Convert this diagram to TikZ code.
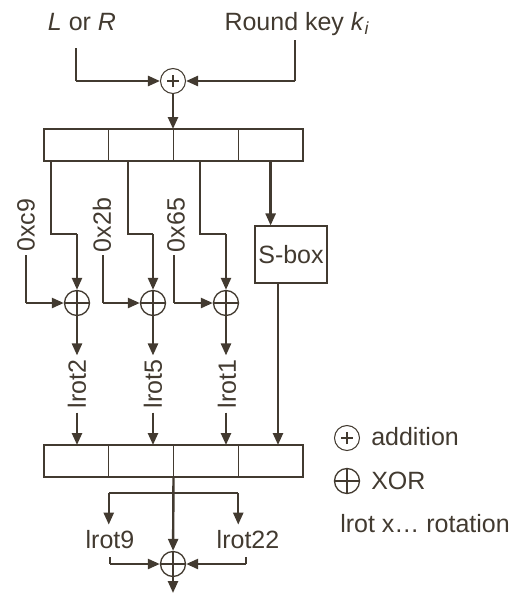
\documentclass[tikz,border=0pt]{standalone}
\usepackage{fontspec}
\setmainfont{Liberation Sans}
\usetikzlibrary{arrows.meta}
\definecolor{ink}{RGB}{66,58,48}
\begin{document}
\begin{tikzpicture}[x=0.75pt,y=-0.75pt,
  tline/.style={draw=ink, line width=0.8pt},
  arr/.style={draw=ink, line width=1.8pt, -{Triangle[length=9pt,width=7.5pt]}},
  lbl/.style={text=ink, font=\fontsize{18.75}{22}\selectfont, inner sep=0pt},
  addc/.style={circle, draw=ink, line width=0.8pt, minimum size=18.75pt, inner sep=0pt,
    path picture={\draw[ink,line width=1.3pt]
      ([xshift=-4.5pt]path picture bounding box.center) -- ([xshift=4.5pt]path picture bounding box.center)
      ([yshift=-4.5pt]path picture bounding box.center) -- ([yshift=4.5pt]path picture bounding box.center);}},
  xorc/.style={circle, draw=ink, line width=1pt, minimum size=18.75pt, inner sep=0pt,
    path picture={\draw[ink,line width=1.1pt]
      (path picture bounding box.north) -- (path picture bounding box.south)
      (path picture bounding box.west) -- (path picture bounding box.east);}},
  cell/.style={draw=ink, line width=0.8pt, minimum width=48.5625pt, minimum height=24pt, inner sep=0pt, outer sep=0pt},
]
\useasboundingbox (0,0) rectangle (518,594);

% top inputs
\node[lbl, anchor=base] (lr) at (82,30) {\textit{L} or \textit{R}};
\node[lbl, anchor=base] (rk) at (297,30) {Round key \textit{k}\textsubscript{\textit{i}}};
\node[addc] (p) at (173,81) {};
\coordinate (a1) at (76,48);
\coordinate (a2) at (295,40);
\draw[tline] (a1) -- (a1 |- p);
\draw[arr] (a1 |- p) -- (p);
\draw[tline] (a2) -- (a2 |- p);
\draw[arr] (a2 |- p) -- (p);

% top register
\node[cell] (t1) at (76.375,145) {};
\node[cell] (t2) at (141.125,145) {};
\node[cell] (t3) at (205.875,145) {};
\node[cell] (t4) at (270.625,145) {};
\draw[arr] (p) -- (p |- t3.north);

% XOR stage
\node[xorc] (x1) at (77,303) {};
\node[xorc] (x2) at (153,303) {};
\node[xorc] (x3) at (226,303) {};
\coordinate (b1) at (51,234);
\coordinate (b2) at (128,234);
\coordinate (b3) at (200,234);
\draw[tline] (b1 |- t1.south) -- (b1) -- (b1 -| x1);
\draw[arr] (b1 -| x1) -- (x1);
\draw[tline] (b2 |- t2.south) -- (b2) -- (b2 -| x2);
\draw[arr] (b2 -| x2) -- (x2);
\draw[tline] (b3 |- t3.south) -- (b3) -- (b3 -| x3);
\draw[arr] (b3 -| x3) -- (x3);

\node[lbl, rotate=90] (k1) at (26,225) {0xc9};
\node[lbl, rotate=90] (k2) at (102,225) {0x2b};
\node[lbl, rotate=90] (k3) at (176,225) {0x65};
\coordinate (f1) at (26,255);
\coordinate (f2) at (103,255);
\coordinate (f3) at (174,255);
\draw[tline] (f1) -- (f1 |- x1);
\draw[arr] (f1 |- x1) -- (x1);
\draw[tline] (f2) -- (f2 |- x2);
\draw[arr] (f2 |- x2) -- (x2);
\draw[tline] (f3) -- (f3 |- x3);
\draw[arr] (f3 |- x3) -- (x3);

% S-box
\node[draw=ink, line width=0.8pt, minimum width=54pt, minimum height=42.75pt, inner sep=0pt, lbl] (sb) at (291,254.5) {S-box};
\draw[arr] (t4.south) -- (t4.south |- sb.north);

% rotations
\node[lbl, rotate=90] (r1) at (77,384) {lrot2};
\node[lbl, rotate=90] (r2) at (153,384) {lrot5};
\node[lbl, rotate=90] (r3) at (227,384) {lrot1};

% bottom register
\node[cell] (u1) at (76.375,461) {};
\node[cell] (u2) at (141.125,461) {};
\node[cell] (u3) at (205.875,461) {};
\node[cell] (u4) at (270.625,461) {};

\draw[arr] (x1) -- ([yshift=3pt]x1 |- r1.east);
\draw[arr] (x2) -- ([yshift=3pt]x2 |- r2.east);
\draw[arr] (x3) -- ([yshift=3pt]x3 |- r3.east);
\draw[arr] ([yshift=-3pt]x1 |- r1.west) -- (x1 |- u1.north);
\draw[arr] ([yshift=-3pt]x2 |- r2.west) -- (x2 |- u2.north);
\draw[arr] ([yshift=-3pt]x3 |- r3.west) -- (x3 |- u3.north);
\coordinate (so) at (278,283);
\draw[arr] (so) -- (so |- u4.north);

% final combination
\node[xorc] (z) at (173,564) {};
\draw[arr] (u2.south east) -- (z);
\coordinate (br) at (173,493);
\draw[tline] (u1.south east |- br) -- (u3.south east |- br);
\node[lbl, anchor=base] (l9) at (110,548) {lrot9};
\node[lbl, anchor=base] (l22) at (248,548) {lrot22};
\draw[arr] (u1.south east |- br) -- ([yshift=3.75pt]u1.south east |- l9.north);
\draw[arr] (u3.south east |- br) -- ([yshift=3.75pt]u3.south east |- l22.north);
\coordinate (g1) at (110,557);
\coordinate (g2) at (246,557);
\draw[tline] (g1) -- (g1 |- z);
\draw[arr] (g1 |- z) -- (z);
\draw[tline] (g2) -- (g2 |- z);
\draw[arr] (g2 |- z) -- (z);
\coordinate (out) at (173,593);
\draw[arr] (z) -- (out);

% legend
\node[addc] (la) at (347,438) {};
\node[lbl, anchor=west] (lat) at (371,437) {addition};
\node[xorc] (lx) at (347,481) {};
\node[lbl, anchor=west] (lxt) at (371,481) {XOR};
\node[lbl, anchor=west] (lrt) at (340,524) {lrot x… rotation};
\end{tikzpicture}
\end{document}
